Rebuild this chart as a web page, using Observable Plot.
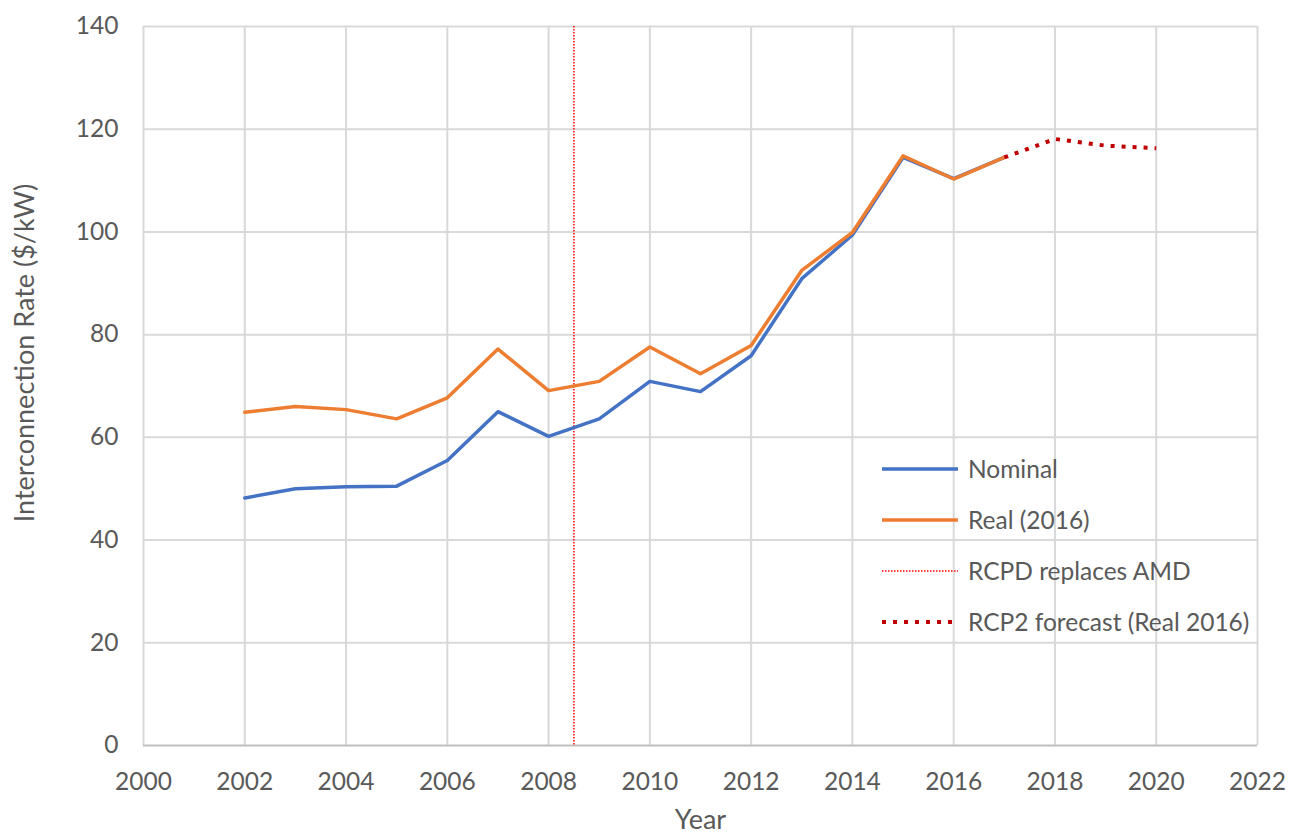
<!DOCTYPE html>
<html>
<head>
<meta charset="utf-8">
<script src="https://cdn.jsdelivr.net/npm/d3@7"></script>
<script src="https://cdn.jsdelivr.net/npm/@observablehq/plot@0.6"></script>
<style>
  html, body { margin: 0; padding: 0; background: #fff; }
  #wrap { position: relative; width: 1289px; height: 834px; font-family: Lato, "Open Sans", sans-serif; }
  #legend { position: absolute; left: 882px; top: 443px; color: #595959; font-size: 24.5px; }
  #legend .row { display: flex; align-items: center; height: 51px; }
  #legend svg { margin-right: 10px; }
</style>
</head>
<body>
<div id="wrap">
  <div id="chart"></div>
  <div id="legend"></div>
</div>
<script>
// ---- data ----
const years = [2002, 2003, 2004, 2005, 2006, 2007, 2008, 2009, 2010, 2011, 2012, 2013, 2014, 2015, 2016, 2017];
const nominal = [48.2, 50.0, 50.4, 50.5, 55.5, 65.0, 60.2, 63.6, 70.9, 68.9, 75.9, 90.9, 99.4, 114.5, 110.4, 114.5];
const real = [64.9, 66.0, 65.4, 63.6, 67.7, 77.2, 69.1, 70.9, 77.6, 72.4, 77.9, 92.5, 99.9, 114.8, 110.3, 114.5];
const forecastYears = [2017, 2018, 2019, 2020];
const forecast = [114.5, 118.1, 116.8, 116.3];
const rcpdYear = [2008.5];
const xTicks = [2000, 2002, 2004, 2006, 2008, 2010, 2012, 2014, 2016, 2018, 2020, 2022];
const yTicks = [0, 20, 40, 60, 80, 100, 120, 140];
const seriesNames = ["Nominal", "Real (2016)", "RCPD replaces AMD", "RCP2 forecast (Real 2016)"];
const yLabel = "Interconnection Rate ($/kW)";
const xLabel = "Year";

const nominalData = years.map((y, i) => ({year: y, value: nominal[i]}));
const realData = years.map((y, i) => ({year: y, value: real[i]}));
const forecastData = forecastYears.map((y, i) => ({year: y, value: forecast[i]}));

const BLUE = "#4472c4", ORANGE = "#ed7d31", DARKRED = "#c00000", RED = "#ff0000";
const GRID = "#d9d9d9", TEXT = "#595959";

const chart = Plot.plot({
  width: 1289,
  height: 834,
  marginLeft: 143,
  marginRight: 32,
  marginTop: 26,
  marginBottom: 89,
  style: {fontFamily: "Lato, 'Open Sans', sans-serif", fontSize: "24.5px", color: TEXT, background: "#fff"},
  x: {domain: [2000, 2022]},
  y: {domain: [0, 140]},
  marks: [
    Plot.gridX(xTicks, {stroke: GRID, strokeOpacity: 1, strokeWidth: 2}),
    Plot.gridY(yTicks.filter(d => d > 0), {stroke: GRID, strokeOpacity: 1, strokeWidth: 2}),
    Plot.ruleY([0], {stroke: "#bfbfbf", strokeWidth: 2}),
    Plot.axisX(xTicks, {tickSize: 0, tickPadding: 27, tickFormat: d => String(d), label: null, fill: TEXT}),
    Plot.axisY(yTicks, {tickSize: 0, tickPadding: 25, label: null, fill: TEXT}),
    Plot.ruleX(rcpdYear, {stroke: RED, strokeWidth: 1.5, strokeDasharray: "1.5,1.5"}),
    Plot.line(nominalData, {x: "year", y: "value", stroke: BLUE, strokeWidth: 3.5}),
    Plot.line(realData, {x: "year", y: "value", stroke: ORANGE, strokeWidth: 3.5}),
    Plot.line(forecastData, {x: "year", y: "value", stroke: DARKRED, strokeWidth: 4, strokeDasharray: "4,7", strokeLinecap: "butt"}),
    Plot.text([yLabel], {frameAnchor: "left", textAnchor: "middle", lineAnchor: "middle", rotate: -90, dx: -118, dy: -33, fill: TEXT, fontSize: 27}),
    Plot.text([xLabel], {frameAnchor: "bottom", textAnchor: "middle", lineAnchor: "middle", dy: 75, fill: TEXT, fontSize: 27})
  ]
});
document.getElementById("chart").appendChild(chart);

// ---- legend (HTML overlay) ----
const swatches = [
  {stroke: BLUE, width: 3.5, dash: null},
  {stroke: ORANGE, width: 3.5, dash: null},
  {stroke: RED, width: 1.5, dash: "1.5,1.5"},
  {stroke: DARKRED, width: 4, dash: "4,7"}
];
const legend = document.getElementById("legend");
seriesNames.forEach((name, i) => {
  const s = swatches[i];
  const row = document.createElement("div");
  row.className = "row";
  row.innerHTML = `<svg width="76" height="10"><line x1="0" x2="76" y1="5" y2="5" stroke="${s.stroke}" stroke-width="${s.width}" ${s.dash ? `stroke-dasharray="${s.dash}"` : ""}></line></svg><span>${name}</span>`;
  legend.appendChild(row);
});
</script>
</body>
</html>
